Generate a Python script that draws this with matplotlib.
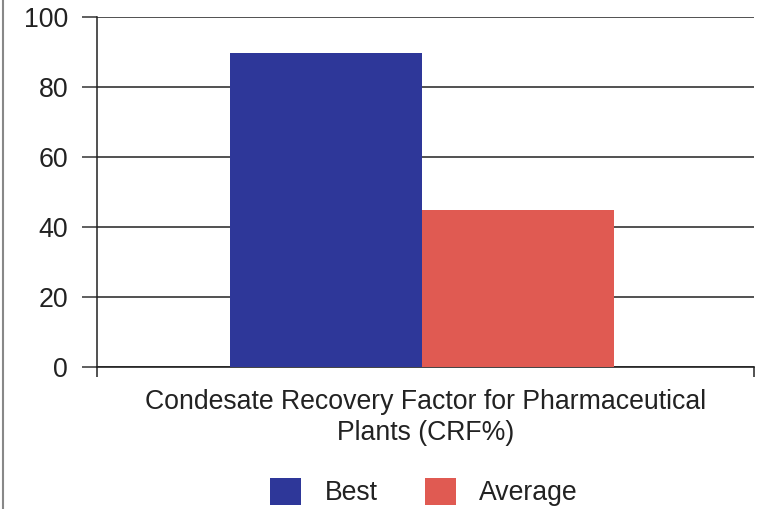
import matplotlib
matplotlib.use("Agg")
import matplotlib.pyplot as plt
from matplotlib.lines import Line2D

categories = ["Condesate Recovery Factor for Pharmaceutical\nPlants (CRF%)"]
series_names = ["Best", "Average"]
best_values = [89.7]
average_values = [44.9]
y_ticks = [0, 20, 40, 60, 80, 100]

colors = ["#2E3799", "#E05A52"]

plt.rcParams['font.family'] = ['Liberation Sans', 'DejaVu Sans']

fig = plt.figure(figsize=(7.62, 5.09), dpi=100)
ax = fig.add_axes([97/762, 1-367/509, 657/762, 350/509])

bw = 0.2922
x0 = 0
ax.bar([x0 - bw/2 - 0.005], best_values, width=bw, color=colors[0], zorder=3, label=series_names[0])
ax.bar([x0 + bw/2 - 0.005], average_values, width=bw, color=colors[1], zorder=3, label=series_names[1])

ax.set_xlim(-0.5, 0.5)
ax.set_ylim(0, 100)
ax.set_yticks(y_ticks)
ax.set_yticklabels([str(v) for v in y_ticks], fontsize=19.3, color="#222222")
ax.set_xticks([0])
ax.set_xticklabels(categories, fontsize=19.2, color="#222222", linespacing=1.25)
ax.tick_params(axis='x', length=0, pad=16)
ax.set_xticks([-0.5, 0.5], minor=True)
ax.tick_params(axis='x', which='minor', length=7.5, width=1.1, color="#222222", direction='out')
ax.tick_params(axis='y', length=10.8, width=1.1, color="#333333", direction='out', pad=10)

ax.yaxis.grid(True, color="#333333", linewidth=1.2, zorder=0)
ax.set_axisbelow(True)
for s in ['top', 'right']:
    ax.spines[s].set_visible(False)
ax.spines['left'].set_color("#222222")
ax.spines['left'].set_linewidth(1.1)
ax.spines['bottom'].set_color("#222222")
ax.spines['bottom'].set_linewidth(1.2)

fig.legend(loc='center', bbox_to_anchor=(424/762, 1-492/509), ncol=2, frameon=False,
           fontsize=19.2, handlelength=1.17, handleheight=1.17, handletextpad=0.88,
           columnspacing=1.75, labelcolor="#222222")

fig.add_artist(Line2D([2.5/762, 2.5/762], [0, 1], color="#888888", linewidth=1.5, transform=fig.transFigure))

fig.savefig("out.png", dpi=100)
